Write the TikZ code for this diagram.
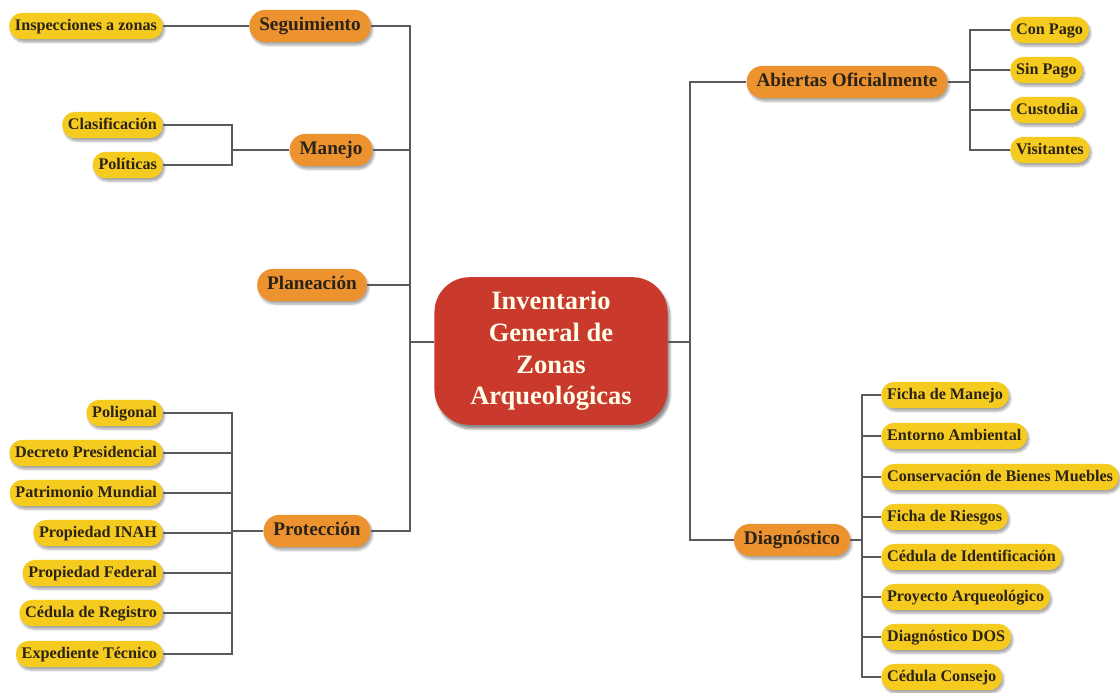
\documentclass[tikz,border=0pt]{standalone}
\usepackage{fontspec}
\setmainfont{Liberation Serif}
\usetikzlibrary{shadows.blur}
\definecolor{leafyellow}{HTML}{F6CB1F}
\definecolor{topicorange}{HTML}{EC922F}
\definecolor{rootred}{HTML}{C93A2D}
\definecolor{inkbrown}{HTML}{2B2218}
\definecolor{linegray}{HTML}{5A5A5A}
\begin{document}
\begin{tikzpicture}[
  x=0.03cm, y=-0.03cm,
  pill/.style={text=inkbrown, inner ysep=1pt, text height=0.9em, text depth=0.16em,
    blur shadow={shadow xshift=1.5pt, shadow yshift=-2.5pt, shadow blur steps=6, shadow opacity=35}},
  leaf/.style={pill, fill=leafyellow, minimum height=22.5pt, rounded corners=11pt, inner xsep=5pt,
    font=\fontsize{13.8}{15}\selectfont\bfseries},
  topic/.style={pill, fill=topicorange, minimum height=27.5pt, rounded corners=13.5pt, inner xsep=8.5pt,
    font=\fontsize{16.4}{18}\selectfont\bfseries},
  root/.style={fill=rootred, text=white!92!yellow, minimum width=199pt, minimum height=126pt,
    rounded corners=30pt, align=center, font=\fontsize{22.6}{27}\selectfont\bfseries,
    blur shadow={shadow xshift=2pt, shadow yshift=-3.5pt, shadow blur steps=8, shadow opacity=45}},
  link/.style={draw=linegray, line width=1pt}
]
\useasboundingbox (0,0) rectangle (1120,692);

\node[root] (root) at (551,351) {Inventario\\General de\\Zonas\\Arqueológicas};

\node[topic] (seg) at (310,26) {Seguimiento};
\node[topic] (man) at (331,150) {Manejo};
\node[topic] (plan) at (312,285) {Planeación};
\node[topic] (prot) at (317,531) {Protección};
\node[topic] (abi) at (847,82) {Abiertas Oficialmente};
\node[topic] (diag) at (792,540) {Diagnóstico};

\node[leaf, anchor=east] (insp) at (163,26) {Inspecciones a zonas};
\node[leaf, anchor=east] (clas) at (163,125) {Clasificación};
\node[leaf, anchor=east] (poli) at (163,165) {Políticas};

\node[leaf, anchor=east] (pol) at (163,413) {Poligonal};
\node[leaf, anchor=east] (decr) at (163,453) {Decreto Presidencial};
\node[leaf, anchor=east] (patr) at (163,493) {Patrimonio Mundial};
\node[leaf, anchor=east] (inah) at (163,533) {Propiedad INAH};
\node[leaf, anchor=east] (fede) at (163,573) {Propiedad Federal};
\node[leaf, anchor=east] (cedr) at (163,613) {Cédula de Registro};
\node[leaf, anchor=east] (expe) at (163,654) {Expediente Técnico};

\node[leaf, anchor=west] (conp) at (1010,30) {Con Pago};
\node[leaf, anchor=west] (sinp) at (1010,70) {Sin Pago};
\node[leaf, anchor=west] (cust) at (1010,110) {Custodia};
\node[leaf, anchor=west] (visi) at (1010,150) {Visitantes};

\node[leaf, anchor=west] (fman) at (881,395) {Ficha de Manejo};
\node[leaf, anchor=west] (ento) at (881,436) {Entorno Ambiental};
\node[leaf, anchor=west] (cons) at (881,477) {Conservación de Bienes Muebles};
\node[leaf, anchor=west] (frie) at (881,517) {Ficha de Riesgos};
\node[leaf, anchor=west] (cide) at (881,557) {Cédula de Identificación};
\node[leaf, anchor=west] (parq) at (881,597) {Proyecto Arqueológico};
\node[leaf, anchor=west] (ddos) at (881,637) {Diagnóstico DOS};
\node[leaf, anchor=west] (ccon) at (881,677) {Cédula Consejo};

\coordinate (trunkL) at (410,342);
\coordinate (trunkR) at (690,342);
\coordinate (manJ) at (232,150);
\coordinate (protJ) at (232,531);
\coordinate (abiJ) at (970,82);
\coordinate (diagJ) at (862,540);

\draw[link] (insp) -- (seg);
\foreach \n in {clas,poli} \draw[link] (\n.east) -| (manJ);
\draw[link] (manJ) -- (man.west);
\foreach \n in {pol,decr,patr,inah,fede,cedr,expe} \draw[link] (\n.east) -| (protJ);
\draw[link] (protJ) -- (prot.west);
\foreach \n in {seg,man,plan,prot} \draw[link] (\n.east) -| (trunkL);
\draw[link] (trunkL) -- (trunkL -| root.west);
\foreach \n in {abi,diag} \draw[link] (\n.west) -| (trunkR);
\draw[link] (trunkR) -- (trunkR -| root.east);
\foreach \n in {conp,sinp,cust,visi} \draw[link] (\n.west) -| (abiJ);
\draw[link] (abiJ) -- (abi.east);
\foreach \n in {fman,ento,cons,frie,cide,parq,ddos,ccon} \draw[link] (\n.west) -| (diagJ);
\draw[link] (diagJ) -- (diag.east);
\end{tikzpicture}
\end{document}
